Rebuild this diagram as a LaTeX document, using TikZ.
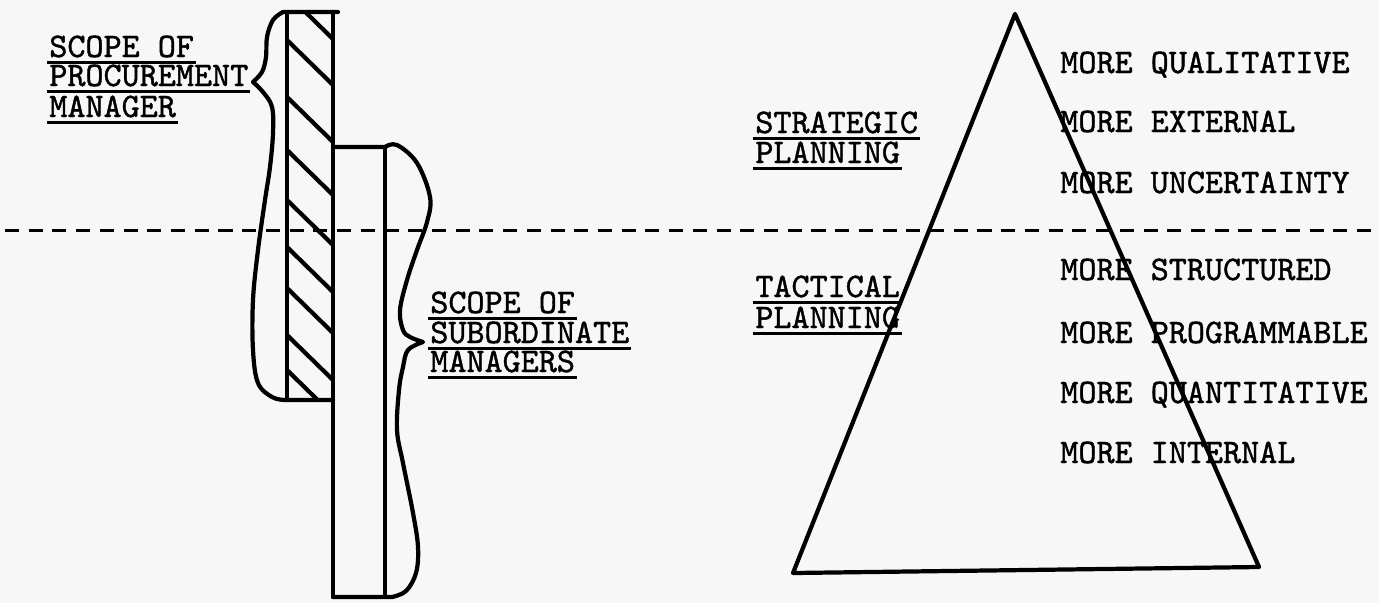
\documentclass[tikz,border=0pt]{standalone}
\usepackage{fontspec}
\usepackage{tikz}
\newfontfamily\typewriter{lmmono10-regular}[Extension=.otf, FakeBold=1.2]
\tikzset{
  outline/.style={line width=2.4pt, draw=black, line join=round, line cap=round},
  hatch/.style={line width=2.4pt, draw=black},
  divider/.style={line width=1.7pt, draw=black, dash pattern=on 8pt off 5.5pt},
  typed/.style={font=\typewriter\fontsize{19.6}{23}\selectfont, inner sep=0pt, anchor=base west},
  rule/.style={line width=1.7pt, draw=black}
}

\begin{document}
\begin{tikzpicture}[x=0.02cm, y=-0.02cm]
  \useasboundingbox[fill=black!3] (0,0) rectangle (1379,603);

  % dividing line
  \draw[divider] (5,230) -- (1379,230);

  % hatched bar
  \begin{scope}
    \clip (287,12) rectangle (333,400);
    \foreach \ya in {-6,40,97,150,200,247,288,335,370}
      \draw[hatch] (287,\ya) -- ++(46,45);
  \end{scope}
  \draw[outline] (287,12) -- (287,400);
  \draw[outline] (333,12) -- (333,597);
  \draw[outline] (385,147) -- (385,595);

  % procurement brace
  \draw[outline] (338,12) -- (283,12)
    -- plot[smooth, tension=0.6] coordinates {(283,12) (273,20) (267,37) (266,57) (262,72) (253,82)}
    -- plot[smooth, tension=0.6] coordinates {(253,82) (263,92) (272,107) (273,133) (270,167) (265,200) (258,250) (253,300) (253,350) (258,383) (272,397) (285,400)}
    -- (333,400);

  % subordinate brace
  \draw[outline] (333,147) -- (385,147)
    -- plot[smooth, tension=0.6] coordinates {(385,147) (397,145) (417,163) (430,197) (427,222) (417,250) (407,280) (400,310) (403,330) (410,337) (423,342)}
    -- plot[smooth, tension=0.6] coordinates {(423,342) (408,350) (403,367) (399,390) (397,430) (403,463) (413,513) (418,547) (416,573) (406,591) (392,597)}
    -- (333,597);

  % pyramid
  \draw[outline] (1015,14) -- (1259,567) -- (793,573) -- cycle;

  % labels
  \node[typed] (proc1) at (49,57) {SCOPE OF};
  \node[typed] (proc2) at (49,86) {PROCUREMENT};
  \node[typed] (proc3) at (49,117) {MANAGER};
  \node[typed] (sub1) at (430,313) {SCOPE OF};
  \node[typed] (sub2) at (430,343) {SUBORDINATE};
  \node[typed] (sub3) at (430,372) {MANAGERS};
  \node[typed] (strat1) at (755,133) {STRATEGIC};
  \node[typed] (strat2) at (755,163) {PLANNING};
  \node[typed] (tact1) at (755,297) {TACTICAL};
  \node[typed] (tact2) at (755,328) {PLANNING};
  \foreach \y/\txt [count=\i] in {73/QUALITATIVE, 132/EXTERNAL, 193/UNCERTAINTY,
      280/STRUCTURED, 343/PROGRAMMABLE, 403/QUANTITATIVE, 463/INTERNAL}
    \node[typed] (more\i) at (1060,\y) {MORE \txt};

  % underlines
  \foreach \n in {proc1,proc2,proc3,sub1,sub2,sub3,strat1,strat2,tact1,tact2}
    \draw[rule] ([xshift=-1pt,yshift=-3pt]\n.base west) -- ([xshift=1pt,yshift=-3pt]\n.base east);
\end{tikzpicture}
\end{document}
